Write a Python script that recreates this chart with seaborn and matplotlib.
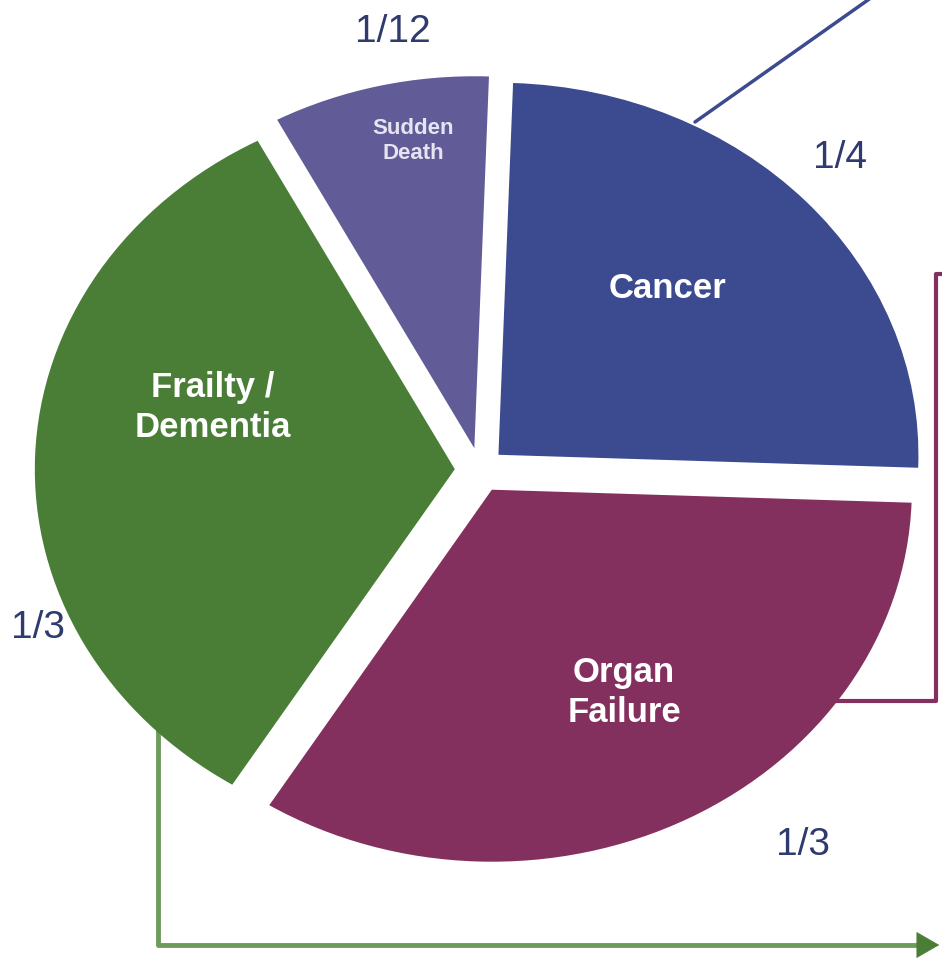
import numpy as np
import matplotlib
matplotlib.use("Agg")
import matplotlib.pyplot as plt
import seaborn as sns

# Data
categories = ["Cancer", "Organ\nFailure", "Frailty /\nDementia", "Sudden\nDeath"]
shares = [1/4, 1/3, 1/3, 1/12]
share_labels = ["1/4", "1/3", "1/3", "1/12"]
colors = ["#3C4A8F", "#84305F", "#4A7E37", "#615C97"]

sns.set_theme(style="white")
plt.rcParams['font.family'] = ['Liberation Sans', 'DejaVu Sans']

fig = plt.figure(figsize=(9.42, 9.58), dpi=100)

# overlay in pixel coordinates for connectors and fraction labels
ov = fig.add_axes([0, 0, 1, 1], zorder=0)
ov.set_xlim(0, 942)
ov.set_ylim(958, 0)
ov.axis("off")

# pie axes: slightly wider than tall, like the original drawing
ax = fig.add_axes([60 / 942, (958 - 470 - 372) / 958, 840 / 942, 744 / 958], zorder=1)
ax.patch.set_alpha(0)
wedges, texts = ax.pie(shares, colors=colors, startangle=88, counterclock=False,
                       explode=[0.06] * 4, wedgeprops=dict(linewidth=0))
ax.set_aspect("auto")
ax.set_xlim(-1, 1)
ax.set_ylim(-1, 1)

# labels inside the slices
label_r = [0.60, 0.63, 0.60, 0.84]
label_dang = [5, 2, -14, -3]
label_size = [25, 25, 25, 16]
label_color = ["white", "white", "white", "#E6E4F0"]
for w, name, r, da, fs, c in zip(wedges, categories, label_r, label_dang,
                                 label_size, label_color):
    cx, cy = w.center
    ang = np.deg2rad((w.theta1 + w.theta2) / 2 + da)
    ax.text(cx + r * np.cos(ang), cy + r * np.sin(ang), name, color=c,
            fontsize=fs, fontweight="bold", ha="center", va="center",
            linespacing=1.25)
for w in wedges:
    w.set_clip_on(False)

# connectors
navy = "#2F3A6E"
ov.plot([695, 875], [122, -5], color="#3C4A8F", lw=2.5)
ov.plot([830, 936, 936, 945], [701, 701, 274, 274], color="#84305F", lw=3)
ov.plot([158, 158, 925], [700, 945, 945], color="#6E9A5C", lw=3.5)
ov.annotate("", xy=(942, 945), xytext=(915, 945), annotation_clip=False,
            arrowprops=dict(arrowstyle="-|>,head_length=1.3,head_width=0.75",
                            color="#4A7E37", lw=0.5))

# fraction labels
for txt, px, py in zip(share_labels, [840, 803, 38, 393], [158, 845, 628, 32]):
    ov.text(px, py, txt, color=navy, fontsize=28, ha="center", va="center")

fig.savefig("out.png", dpi=100)
